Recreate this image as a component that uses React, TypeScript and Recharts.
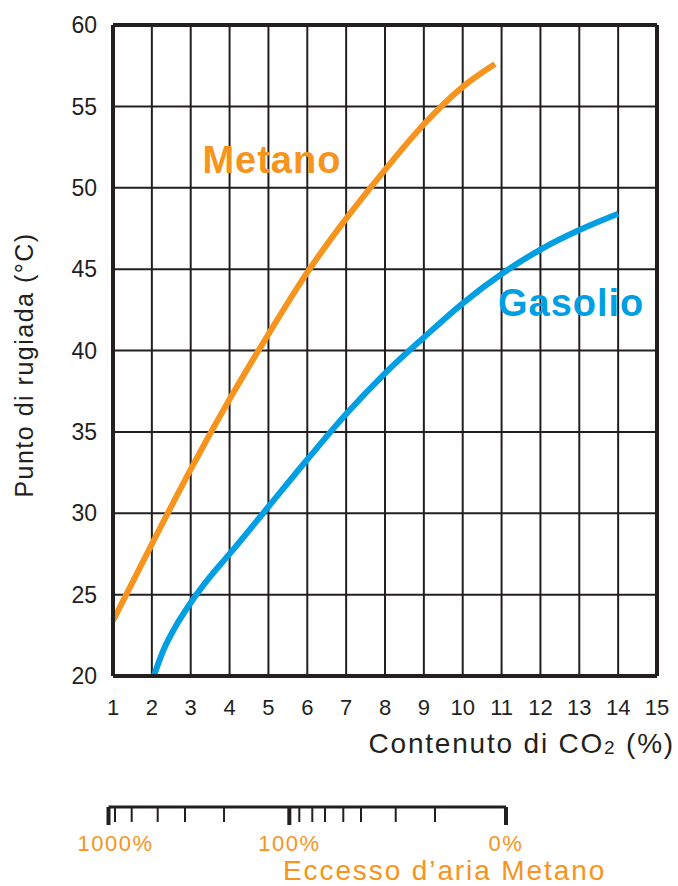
import React from 'react';
import { LineChart, Line, XAxis, YAxis, CartesianGrid, ReferenceLine, ReferenceDot, Label } from 'recharts';

const FONT = '"Liberation Sans", Arial, Helvetica, sans-serif';
const INK = '#231F20';
const ORANGE = '#F7941D';
const BLUE = '#009FE3';

// Metano curve: CO2 % -> dew point °C
const metanoCo2 = [1, 2, 3, 4, 5, 6, 7, 8, 9, 10, 10.83];
const metanoDew = [23.4, 28.1, 32.7, 37.0, 41.0, 44.8, 48.1, 51.1, 53.9, 56.2, 57.6];

// Gasolio curve
const gasolioCo2 = [2.05, 2.3, 2.6, 3, 3.5, 4, 5, 6, 7, 8, 9, 10, 11, 12, 13, 14];
const gasolioDew = [20, 21.6, 23.0, 24.5, 26.1, 27.5, 30.4, 33.3, 36.1, 38.6, 40.8, 42.9, 44.7, 46.2, 47.4, 48.4];

const co2Ticks = [1, 2, 3, 4, 5, 6, 7, 8, 9, 10, 11, 12, 13, 14, 15];
const dewTicks = [20, 25, 30, 35, 40, 45, 50, 55, 60];

// excess air scale (Metano), ticks placed at their CO2 position
const airTickCo2 = [0.892, 1.059, 1.489, 2.158, 2.861, 3.865, 5.545, 5.802, 6.136, 6.463, 6.934, 7.39, 8.283, 9.294, 11.121];
const airTickLabels = ['1000%', '', '', '', '', '', '100%', '', '', '', '', '', '', '', '0%'];

const metanoData = metanoCo2.map((co2, i) => ({ co2, dew: metanoDew[i] }));
const gasolioData = gasolioCo2.map((co2, i) => ({ co2, dew: gasolioDew[i] }));
const airData = airTickCo2.map((co2) => ({ co2 }));

const AirTick = (props: any) => {
    const { x, y, index } = props;
    const label = airTickLabels[index];
    const major = label !== '';
    return (
        <g>
            <line x1={x} x2={x} y1={y} y2={y + (major ? 18 : 15)} stroke={INK} strokeWidth={major ? 4 : 2} />
            {major && (
                <text x={x} dx={index === 0 ? 7 : 0} y={y + 44} textAnchor="middle" fill={ORANGE} fontSize={22} fontFamily={FONT} letterSpacing={1.5}>
                    {label}
                </text>
            )}
        </g>
    );
};

const curveLabel = (text: string, color: string) => (props: any) => {
    const { viewBox } = props;
    return (
        <text x={viewBox.x} y={viewBox.y + 13} textAnchor="middle" fill={color} fontSize={38} fontWeight="bold" fontFamily={FONT} letterSpacing={1}>
            {text}
        </text>
    );
};

export default function App() {
    return (
        <div style={{ position: 'absolute', left: 0, top: 0, width: 678, height: 886, background: '#fff' }}>
            <LineChart width={678} height={760} margin={{ top: 25, right: 21, bottom: 0, left: 0 }}>
                <CartesianGrid stroke={INK} strokeWidth={2} />
                <XAxis
                    type="number"
                    dataKey="co2"
                    domain={[1, 15]}
                    ticks={co2Ticks}
                    interval={0}
                    height={84}
                    tickSize={0}
                    tickMargin={23}
                    tickLine={false}
                    axisLine={{ stroke: INK, strokeWidth: 4 }}
                    tick={{ fill: INK, fontSize: 22, fontFamily: FONT }}
                >
                    <Label
                        content={() => (
                            <text x={675} y={753} textAnchor="end" fill={INK} fontSize={28} fontFamily={FONT} letterSpacing={1.8}>
                                Contenuto di CO<tspan fontSize={19} dy={1}>2</tspan>
                                <tspan dy={-1}> (%)</tspan>
                            </text>
                        )}
                    />
                </XAxis>
                <YAxis
                    type="number"
                    domain={[20, 60]}
                    ticks={dewTicks}
                    interval={0}
                    width={113}
                    tickSize={0}
                    tickMargin={16}
                    tickLine={false}
                    axisLine={{ stroke: INK, strokeWidth: 4 }}
                    tick={{ fill: INK, fontSize: 23, fontFamily: FONT }}
                >
                    <Label
                        content={() => (
                            <text x={33} y={365} transform="rotate(-90, 33, 365)" textAnchor="middle" fill={INK} fontSize={25} fontFamily={FONT} letterSpacing={1.5}>
                                Punto di rugiada (°C)
                            </text>
                        )}
                    />
                </YAxis>
                <ReferenceLine y={60} stroke={INK} strokeWidth={4} />
                <ReferenceLine x={15} stroke={INK} strokeWidth={4} />
                <Line data={metanoData} dataKey="dew" type="monotone" stroke={ORANGE} strokeWidth={6} dot={false} isAnimationActive={false} />
                <Line data={gasolioData} dataKey="dew" type="monotone" stroke={BLUE} strokeWidth={6} dot={false} isAnimationActive={false} />
                <ReferenceDot x={5.09} y={51.68} r={0} fill="none" stroke="none">
                    <Label content={curveLabel('Metano', ORANGE)} />
                </ReferenceDot>
                <ReferenceDot x={12.79} y={42.92} r={0} fill="none" stroke="none">
                    <Label content={curveLabel('Gasolio', BLUE)} />
                </ReferenceDot>
            </LineChart>

            <div style={{ position: 'absolute', left: 0, top: 780 }}>
                <LineChart width={678} height={106} data={airData} margin={{ top: 20, right: 172, bottom: 0, left: 108.5 }}>
                    <YAxis hide domain={[0, 1]} />
                    <XAxis
                        type="number"
                        dataKey="co2"
                        domain={[airTickCo2[0], airTickCo2[airTickCo2.length - 1]]}
                        ticks={airTickCo2}
                        interval={0}
                        height={79}
                        tickSize={0}
                        tickMargin={0}
                        tickLine={false}
                        axisLine={{ stroke: INK, strokeWidth: 3 }}
                        tick={<AirTick />}
                        allowDataOverflow
                    >
                        <Label
                            content={() => (
                                <text x={283} y={100} textAnchor="start" fill={ORANGE} fontSize={28} fontFamily={FONT} letterSpacing={1.9}>
                                    Eccesso d’aria Metano
                                </text>
                            )}
                        />
                    </XAxis>
                </LineChart>
            </div>
        </div>
    );
}
